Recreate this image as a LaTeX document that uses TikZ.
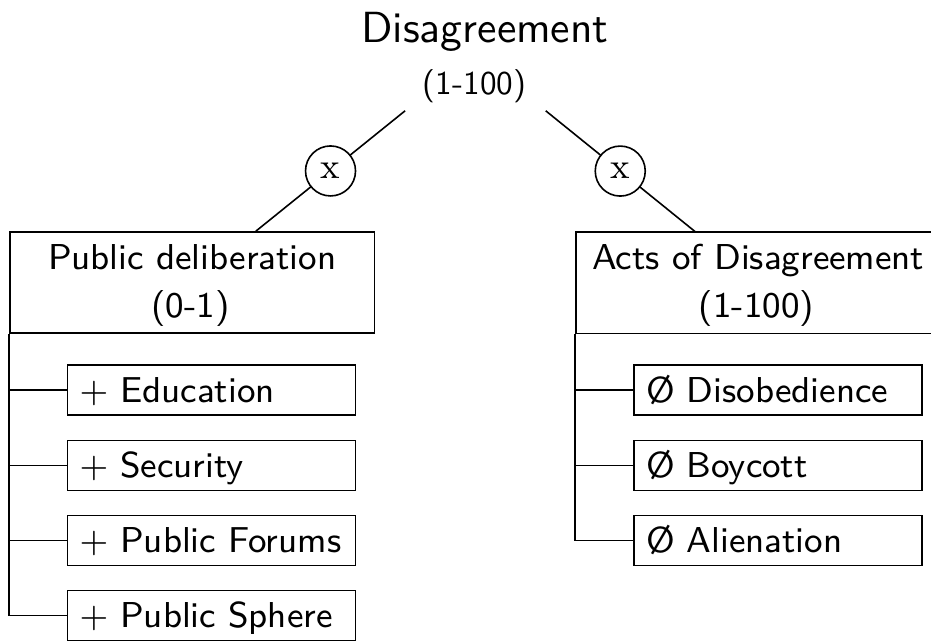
\documentclass[tikz,border=0pt]{standalone}
\begin{document}
\begin{tikzpicture}[x=0.25pt,y=-0.25pt,
  font=\sffamily,
  line width=0.4pt,
  rootbox/.style={rectangle, minimum width=40pt, minimum height=28pt, inner sep=0pt},
  bigbox/.style={draw, rectangle, minimum width=91.1pt, minimum height=25.3pt, inner sep=0pt},
  boxtxt/.style={anchor=base, inner sep=0pt, font=\sffamily\fontsize{9}{11}\selectfont},
  titletxt/.style={anchor=base, inner sep=0pt, font=\sffamily\fontsize{10.9}{13}\selectfont},
  toptxt/.style={anchor=base, inner sep=0pt, font=\sffamily\fontsize{10}{12}\selectfont},
  leaf/.style={draw, rectangle, minimum width=72pt, minimum height=12.5pt, inner xsep=3pt, inner ysep=0pt,
    text width=66pt, align=left, text height=7.5pt, text depth=1.5pt,
    font=\sffamily\fontsize{9}{11}\selectfont},
  opnode/.style={draw, circle, fill=white, minimum size=12.5pt, inner sep=0pt,
    font=\rmfamily\fontsize{9}{11}\selectfont},
]
\useasboundingbox (0,0) rectangle (931,641);
\clip (0,0) rectangle (931,641);

% root
\node[rootbox] (root) at (475.5,54) {};
\node[titletxt] (title) at (485,43) {Disagreement};
\node[toptxt] (titlerange) at (474.5,95) {\scalebox{0.83}{(1-100)}};

% main boxes
\node[bigbox] (pd) at (192.25,282.5) {};
\node[boxtxt] (pdname) at (192.25,269) {Public deliberation};
\node[boxtxt] (pdrange) at (190.5,317) {(0-1)};

\node[bigbox] (acts) at (758.25,282.75) {};
\node[boxtxt] (actsname) at (758.25,269) {Acts of Disagreement};
\node[boxtxt] (actsrange) at (756.5,317) {(1-100)};

% edges with operators
\draw (root) -- node[opnode] (opl) {x} (pd);
\draw (root) -- node[opnode] (opr) {x} (acts);

% leaves left
\node[leaf] (l1) at (211.5,390) {\mbox{$+$ Education}};
\node[leaf] (l2) at (211.5,465.5) {\mbox{$+$ Security}};
\node[leaf] (l3) at (211.5,540.5) {\mbox{$+$ Public Forums}};
\node[leaf] (l4) at (211.5,615.5) {\mbox{$+$ Public Sphere}};

% leaves right
\node[leaf] (r1) at (778,390) {\mbox{Ø Disobedience}};
\node[leaf] (r2) at (778,465.5) {\mbox{Ø Boycott}};
\node[leaf] (r3) at (778,540.5) {\mbox{Ø Alienation}};

% connectors
\foreach \c in {l1,l2,l3,l4} \draw (pd.south west) |- (\c.west);
\foreach \c in {r1,r2,r3} \draw (acts.south west) |- (\c.west);
\end{tikzpicture}
\end{document}
